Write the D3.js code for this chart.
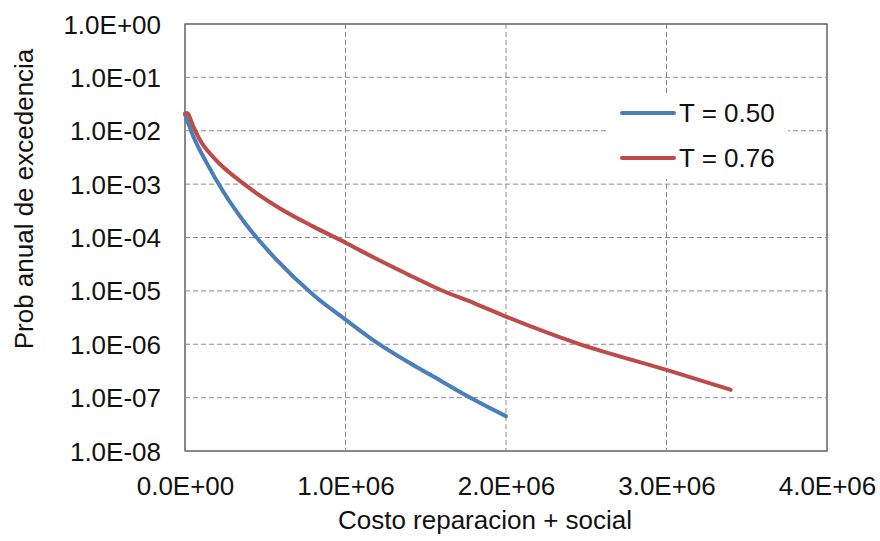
<!DOCTYPE html>
<html>
<head>
<meta charset="utf-8">
<script src="https://cdn.jsdelivr.net/npm/d3@7"></script>
<style>
  body { margin: 0; background: #fff; }
  text { font-family: "Liberation Sans", Arial, sans-serif; fill: #111; }
</style>
</head>
<body>
<div id="chart"></div>
<script>
// data
var xTicks = [0, 1e6, 2e6, 3e6, 4e6];
var yTicks = [1, 1e-1, 1e-2, 1e-3, 1e-4, 1e-5, 1e-6, 1e-7, 1e-8];
var xTickLabels = ["0.0E+00", "1.0E+06", "2.0E+06", "3.0E+06", "4.0E+06"];
var yTickLabels = ["1.0E+00", "1.0E-01", "1.0E-02", "1.0E-03", "1.0E-04", "1.0E-05", "1.0E-06", "1.0E-07", "1.0E-08"];

var seriesNames = ["T = 0.50", "T = 0.76"];
var seriesColors = ["#4a7ebb", "#be4b48"];

var costT050 = [0, 5.2e4, 1.35e5, 2.39e5, 3.84e5, 5.71e5, 8.0e5, 1.0e6, 1.2e6, 1.44e6, 1.59e6, 1.73e6, 2.0e6];
var probT050 = [2.0e-2, 7.8e-3, 2.5e-3, 7.2e-4, 1.7e-4, 3.8e-5, 8.4e-6, 2.9e-6, 1.05e-6, 3.8e-7, 2.1e-7, 1.2e-7, 4.5e-8];

var costT076 = [0, 1.2e4, 5.2e4, 9.3e4, 1.8e5, 3.63e5, 5.92e5, 8.0e5, 1.0e6, 1.17e6, 1.38e6, 1.59e6, 1.8e6, 2.0e6, 2.44e6, 3.0e6, 3.4e6];
var probT076 = [2.1e-2, 2.15e-2, 1.2e-2, 6.7e-3, 3.1e-3, 1.03e-3, 3.5e-4, 1.6e-4, 8.0e-5, 4.3e-5, 2.1e-5, 1.05e-5, 5.9e-6, 3.3e-6, 1.05e-6, 3.3e-7, 1.4e-7];

var svgWidth = 880;
var svgHeight = 541;
var margin = { top: 24, right: 53, bottom: 90, left: 185 };
var chartWidth = svgWidth - margin.left - margin.right;
var chartHeight = svgHeight - margin.top - margin.bottom;

var x = d3.scaleLinear().domain([0, 4e6]).range([0, chartWidth]);
var y = d3.scaleLog().domain([1e-8, 1]).range([chartHeight, 0]);

var svg = d3.select("#chart")
  .append("svg")
  .attr("width", svgWidth)
  .attr("height", svgHeight);

var chartGroup = svg.append("g")
  .attr("transform", `translate(${margin.left}, ${margin.top})`);

// plot border
chartGroup.append("rect")
  .attr("width", chartWidth)
  .attr("height", chartHeight)
  .attr("fill", "none")
  .attr("stroke", "#3a3a3a")
  .attr("stroke-width", 1.2);

// dashed gridlines
chartGroup.append("g")
  .selectAll("line")
  .data(yTicks.slice(1, -1))
  .enter().append("line")
  .attr("x1", 0).attr("x2", chartWidth)
  .attr("y1", d => y(d)).attr("y2", d => y(d))
  .attr("stroke", "#8a8a8a")
  .attr("stroke-dasharray", "5,3");

chartGroup.append("g")
  .selectAll("line")
  .data(xTicks.slice(1, -1))
  .enter().append("line")
  .attr("x1", d => x(d)).attr("x2", d => x(d))
  .attr("y1", 0).attr("y2", chartHeight)
  .attr("stroke", "#8a8a8a")
  .attr("stroke-dasharray", "5,3");

// axes
var yAxis = chartGroup.append("g")
  .call(d3.axisLeft(y).tickValues(yTicks).tickSize(0).tickPadding(24)
    .tickFormat((d, i) => yTickLabels[i]));
yAxis.select(".domain").attr("stroke", "#8a8a8a");
yAxis.selectAll("text").attr("font-size", "26px").attr("font-family", null).attr("dy", "0.35em");

var xAxis = chartGroup.append("g")
  .attr("transform", "translate(0," + chartHeight + ")")
  .call(d3.axisBottom(x).tickValues(xTicks).tickSize(0).tickPadding(26)
    .tickFormat((d, i) => xTickLabels[i]));
xAxis.select(".domain").attr("stroke", "#8a8a8a");
xAxis.selectAll("text").attr("font-size", "26px").attr("font-family", null);

// axis titles
svg.append("text")
  .attr("x", 485)
  .attr("y", 529)
  .attr("text-anchor", "middle")
  .attr("font-size", "26px")
  .text("Costo reparacion + social");

svg.append("text")
  .attr("transform", "translate(33,199) rotate(-90)")
  .attr("text-anchor", "middle")
  .attr("font-size", "26px")
  .text("Prob anual de excedencia");

// curves
var series = [
  costT050.map((c, i) => ({ cost: c, prob: probT050[i] })),
  costT076.map((c, i) => ({ cost: c, prob: probT076[i] }))
];

var valueline = d3.line()
  .x(d => x(d.cost))
  .y(d => y(d.prob))
  .curve(d3.curveMonotoneX);

series.forEach(function(s, i) {
  chartGroup.append("path")
    .datum(s)
    .attr("fill", "none")
    .attr("stroke", seriesColors[i])
    .attr("stroke-width", 4)
    .attr("stroke-linecap", "round")
    .attr("d", valueline);
});

// legend
var legend = svg.append("g");
legend.append("rect")
  .attr("x", 607).attr("y", 93)
  .attr("width", 181).attr("height", 86)
  .attr("fill", "#fff");

seriesNames.forEach(function(name, i) {
  var ly = 113 + i * 45;
  legend.append("line")
    .attr("x1", 622).attr("x2", 674)
    .attr("y1", ly).attr("y2", ly)
    .attr("stroke", seriesColors[i])
    .attr("stroke-width", 4)
    .attr("stroke-linecap", "round");
  legend.append("text")
    .attr("x", 679)
    .attr("y", ly + 9)
    .attr("font-size", "26px")
    .text(name);
});
</script>
</body>
</html>
